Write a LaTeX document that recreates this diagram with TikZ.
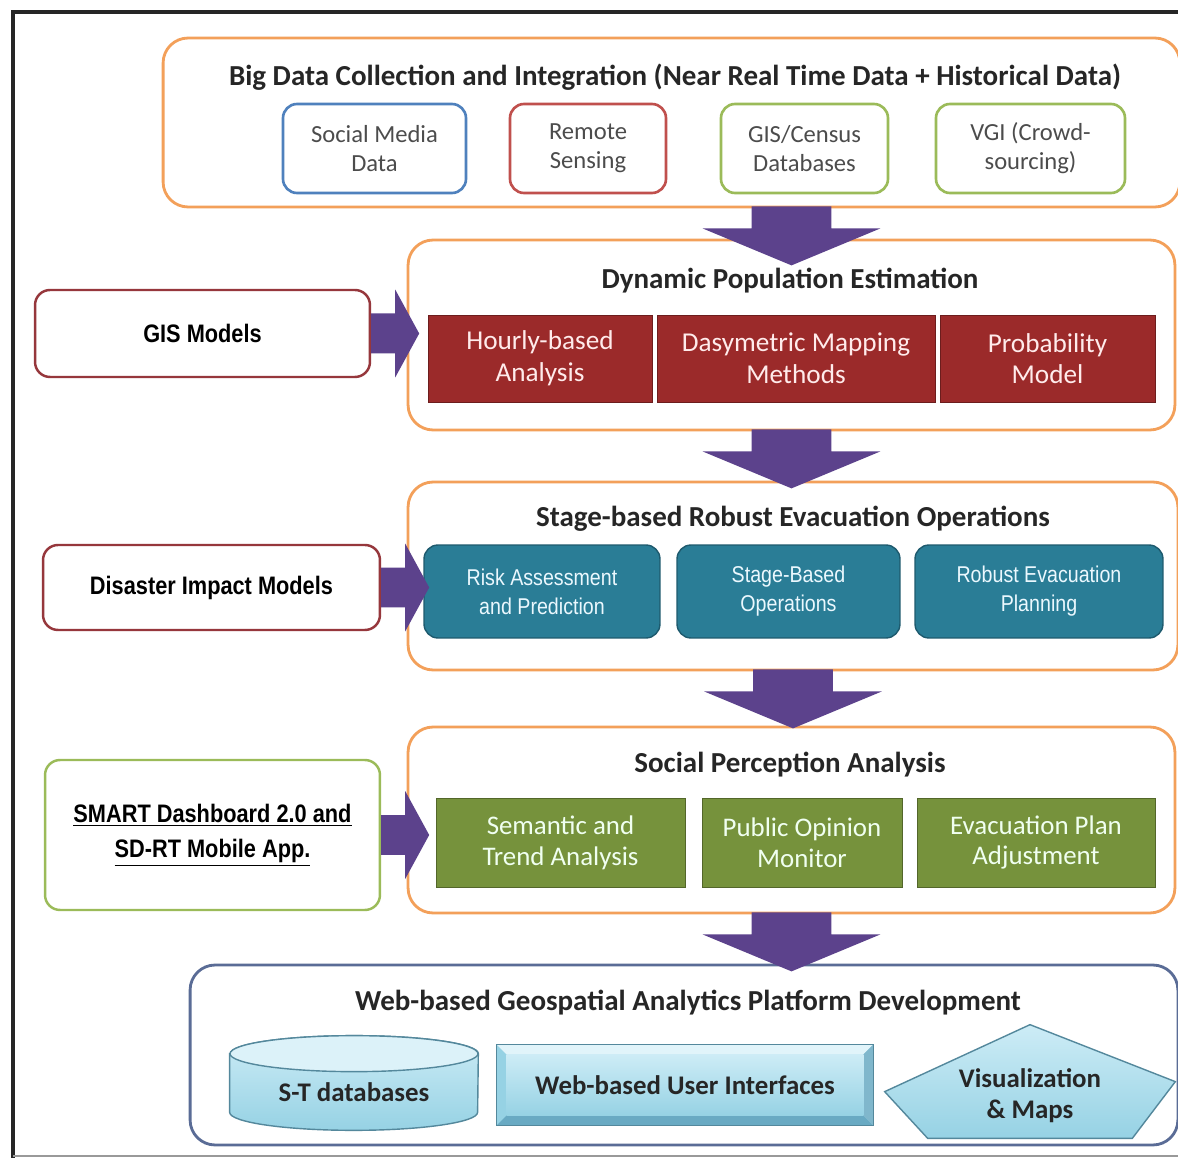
\documentclass[tikz,border=0pt]{standalone}
\usepackage{fontspec}
\setmainfont{Carlito}
\newfontfamily\narrowfont[FakeStretch=0.86]{Liberation Sans}
\usetikzlibrary{calc,backgrounds}

\definecolor{boxorange}{RGB}{243,160,90}
\definecolor{srcblue}{RGB}{79,129,189}
\definecolor{srcred}{RGB}{192,80,77}
\definecolor{srcgreen}{RGB}{155,187,89}
\definecolor{modelred}{RGB}{150,55,60}
\definecolor{estred}{RGB}{155,42,42}
\definecolor{opteal}{RGB}{42,125,150}
\definecolor{opedge}{RGB}{30,90,110}
\definecolor{percgreen}{RGB}{118,146,60}
\definecolor{arrowpurple}{RGB}{92,66,140}
\definecolor{webedge}{RGB}{90,108,150}
\definecolor{lightcyan}{RGB}{205,236,246}
\definecolor{midcyan}{RGB}{150,210,228}
\definecolor{darkcyan}{RGB}{105,170,195}

\tikzstyle{stagebox} = [rectangle, draw=boxorange, line width=1.6pt, rounded corners=0.5cm]
\tikzstyle{stagetitle} = [font=\fontsize{16.5}{18}\selectfont\bfseries, text=black!85]
\tikzstyle{source} = [rectangle, draw, line width=1.5pt, rounded corners=0.28cm, fill=white, align=center, text=black!70, font=\fontsize{14}{16.5}\selectfont]
\tikzstyle{model} = [rectangle, draw, line width=1.4pt, rounded corners=0.3cm, fill=white, align=center, font=\narrowfont\bfseries\fontsize{14.4}{20}\selectfont]
\tikzstyle{estimate} = [rectangle, fill=estred, draw=estred!70!black, align=center, text=red!8, font=\fontsize{15.5}{18}\selectfont]
\tikzstyle{operation} = [rectangle, fill=opteal, draw=opedge, line width=0.8pt, rounded corners=0.28cm, align=center, text=cyan!8!white, font=\narrowfont\fontsize{13}{16.5}\selectfont]
\tikzstyle{perception} = [rectangle, fill=percgreen, draw=percgreen!70!black, align=center, text=green!6!white, font=\fontsize{15.3}{17.6}\selectfont]
\tikzstyle{platform} = [rectangle, align=center, font=\fontsize{15.3}{18}\selectfont\bfseries, text=black!85]

% block arrows between the stages
\newcommand{\downblock}[2]{%
  \fill[arrowpurple] let \p1=(#1.south), \p2=(#2.center) in
    (\x2-0.8cm,\y1+0.04cm) -- (\x2+0.8cm,\y1+0.04cm) -- (\x2+0.8cm,\y1-0.4cm) -- (\x2+1.78cm,\y1-0.4cm)
    -- (\x2,\y1-1.14cm) -- (\x2-1.78cm,\y1-0.4cm) -- (\x2-0.8cm,\y1-0.4cm) -- cycle;}
\newcommand{\rightblock}[1]{%
  \fill[arrowpurple] let \p1=(#1.east) in
    (\x1,\y1+0.4cm) -- (\x1+0.48cm,\y1+0.4cm) -- (\x1+0.48cm,\y1+0.88cm) -- (\x1+0.96cm,\y1)
    -- (\x1+0.48cm,\y1-0.88cm) -- (\x1+0.48cm,\y1-0.4cm) -- (\x1,\y1-0.4cm) -- cycle;}

\begin{document}
\begin{tikzpicture}[x=0.02cm, y=-0.02cm]
    \useasboundingbox (0,0) rectangle (1178,1158);
    \begin{scope}[on background layer]
        \fill[white] (0,0) rectangle (1178,1158);
    \end{scope}
    % frame
    \draw[black!85, line width=1.8pt] (1178,12) -- (13,12) -- (13,1158);
    \draw[black!40, line width=0.8pt] (13,1156) -- (1178,1156);

    % stage 1: data collection
    \node (big) at (671.5,122.5) [stagebox, minimum width=20.34cm, minimum height=3.38cm] {};
    \node (bigtitle) at (675,77) [stagetitle] {Big Data Collection and Integration (Near Real Time Data + Historical Data)};
    \node (social) at (374.5,148.5) [source, draw=srcblue, minimum width=3.66cm, minimum height=1.78cm] {Social Media\\Data};
    \node (remote) at (588,148.5) [source, draw=srcred, minimum width=3.12cm, minimum height=1.78cm] {Remote\\Sensing};
    \node (census) at (804.5,148.5) [source, draw=srcgreen, minimum width=3.34cm, minimum height=1.78cm] {GIS/Census\\Databases};
    \node (vgi) at (1030.5,148.5) [source, draw=srcgreen, minimum width=3.78cm, minimum height=1.78cm] {VGI (Crowd-\\sourcing)};

    % stage 2: population
    \node (dyn) at (791.5,335) [stagebox, minimum width=15.34cm, minimum height=3.8cm] {};
    \node (dyntitle) at (790,281) [stagetitle] {Dynamic Population Estimation};
    \node (hourly) at (540,358.5) [estimate, minimum width=4.48cm, minimum height=1.74cm] {Hourly-based\\Analysis};
    \node (dasy) at (796,358.5) [estimate, minimum width=5.56cm, minimum height=1.74cm] {Dasymetric Mapping\\Methods};
    \node (prob) at (1047.5,358.5) [estimate, minimum width=4.3cm, minimum height=1.74cm] {Probability\\Model};
    \node (gis) at (202.5,333.5) [model, draw=modelred, minimum width=6.7cm, minimum height=1.74cm] {GIS Models};

    % stage 3: evacuation
    \node (stage) at (793,576) [stagebox, minimum width=15.4cm, minimum height=3.76cm] {};
    \node (stagetitle) at (793,519) [stagetitle] {Stage-based Robust Evacuation Operations};
    \node (risk) at (542,591.5) [operation, minimum width=4.72cm, minimum height=1.86cm] {Risk Assessment\\and Prediction};
    \node (stageop) at (788.5,591.5) [operation, minimum width=4.46cm, minimum height=1.86cm] {Stage-Based\\Operations};
    \node (robust) at (1039,591.5) [operation, minimum width=4.96cm, minimum height=1.86cm] {Robust Evacuation\\Planning};
    \node (impact) at (211.5,587.5) [model, draw=modelred, minimum width=6.74cm, minimum height=1.7cm] {Disaster Impact Models};

    % stage 4: perception
    \node (perc) at (791.5,820) [stagebox, minimum width=15.34cm, minimum height=3.72cm] {};
    \node (perctitle) at (790,765) [stagetitle] {Social Perception Analysis};
    \node (semantic) at (560.5,842.5) [perception, minimum width=4.98cm, minimum height=1.78cm] {Semantic and\\Trend Analysis};
    \node (opinion) at (802,842.5) [perception, minimum width=4cm, minimum height=1.78cm] {Public Opinion\\Monitor};
    \node (adjust) at (1036,842.5) [perception, minimum width=4.76cm, minimum height=1.78cm] {Evacuation Plan\\Adjustment};
    \node (smart) at (212.5,835) [model, draw=srcgreen, minimum width=6.7cm, minimum height=3cm] {\underline{SMART Dashboard 2.0 and}\\\underline{SD-RT Mobile App.}};

    % stage 5: platform
    \node (web) at (684,1055) [rectangle, draw=webedge, line width=1.6pt, rounded corners=0.5cm, minimum width=19.76cm, minimum height=3.6cm] {};
    \node (webtitle) at (688,1003) [stagetitle] {Web-based Geospatial Analytics Platform Development};
    \node (stdb) at (354,1092) [platform, minimum width=4.96cm, minimum height=1.52cm] {S-T databases};
    \node (wui) at (685,1085) [platform, minimum width=7.52cm, minimum height=1.6cm] {Web-based User Interfaces};
    \node (vis) at (1030,1095.5) [platform, minimum width=5.8cm, minimum height=1.7cm] {Visualization\\\& Maps};
    \begin{scope}[on background layer]
        % cylinder
        \draw[draw=darkcyan!80!black, line width=0.8pt, top color=lightcyan, bottom color=midcyan]
            (stdb.north west) -- ([yshift=0.36cm]stdb.south west)
            arc[start angle=180, end angle=360, x radius=2.48cm, y radius=0.36cm]
            -- (stdb.north east) arc[start angle=0, end angle=180, x radius=2.48cm, y radius=0.36cm] -- cycle;
        \draw[draw=darkcyan!80!black, line width=0.8pt, fill=lightcyan!70!white] (stdb.north) ellipse [x radius=2.48cm, y radius=0.36cm];
        % bevelled panel
        \fill[midcyan] (wui.north west) rectangle (wui.south east);
        \fill[lightcyan!60!white] (wui.north west) -- (wui.north east) -- ([shift={(-0.2cm,-0.2cm)}]wui.north east) -- ([shift={(0.2cm,-0.2cm)}]wui.north west) -- cycle;
        \fill[darkcyan] (wui.south west) -- (wui.south east) -- ([shift={(-0.2cm,0.2cm)}]wui.south east) -- ([shift={(0.2cm,0.2cm)}]wui.south west) -- cycle;
        \fill[darkcyan!85!white] (wui.north east) -- (wui.south east) -- ([shift={(-0.2cm,0.2cm)}]wui.south east) -- ([shift={(-0.2cm,-0.2cm)}]wui.north east) -- cycle;
        \fill[top color=lightcyan, bottom color=midcyan] ([shift={(0.2cm,-0.2cm)}]wui.north west) rectangle ([shift={(-0.2cm,0.2cm)}]wui.south east);
        \draw[darkcyan!80!black, line width=0.6pt] (wui.north west) rectangle (wui.south east);
        % pentagon
        \draw[draw=darkcyan!80!black, line width=0.8pt, top color=lightcyan, bottom color=midcyan]
            ([yshift=0.56cm]vis.north) -- ([yshift=-0.78cm]vis.north west) -- ([xshift=0.86cm]vis.south west)
            -- ([xshift=-0.86cm]vis.south east) -- ([yshift=-0.58cm]vis.north east) -- cycle;
    \end{scope}

    % block arrows
    \downblock{big}{dyn}
    \downblock{dyn}{dyn}
    \downblock{stage}{stage}
    \downblock{perc}{perc}
    \rightblock{gis}
    \rightblock{impact}
    \rightblock{smart}
\end{tikzpicture}
\end{document}
